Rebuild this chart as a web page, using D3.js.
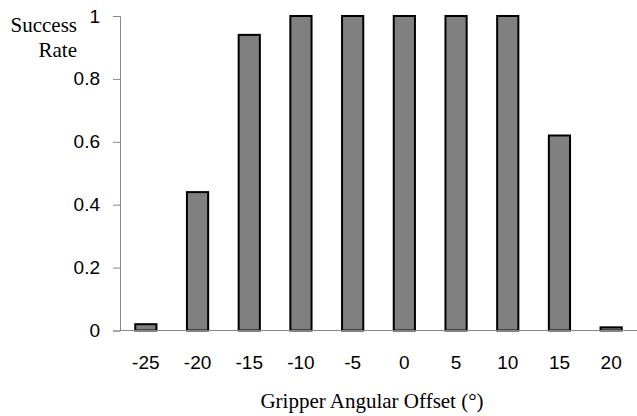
<!DOCTYPE html>
<html><head><meta charset="utf-8">
<script src="https://cdn.jsdelivr.net/npm/d3@7"></script>
<style>body{margin:0;background:#fff}svg{display:block}</style>
</head><body>
<svg id="c" width="637" height="416"></svg>
<script>
const categories = ["-25","-20","-15","-10","-5","0","5","10","15","20"];
const successRate = [0.02,0.44,0.94,1,1,1,1,1,0.62,0.01];
const yTicks = [0,0.2,0.4,0.6,0.8,1];

const svg = d3.select("#c");
const x0 = 120, x1 = 637, yTop = 16, yBot = 330.5;
const x = d3.scaleBand().domain(categories).range([x0, x1]).paddingInner(0.59).paddingOuter(0.295);
const y = d3.scaleLinear().domain([0,1]).range([yBot, yTop]);
const sans = "Liberation Sans, Arial, sans-serif";
const serif = "Liberation Serif, Times New Roman, serif";

svg.selectAll("rect.bar").data(successRate).join("rect")
  .attr("class","bar")
  .attr("x",(d,i)=>x(categories[i]))
  .attr("width",x.bandwidth())
  .attr("y",d=>y(d))
  .attr("height",d=>yBot-y(d))
  .attr("fill","#808080").attr("stroke","#000").attr("stroke-width",2);

// y axis
const ya = svg.append("g").attr("transform",`translate(${x0},0)`)
  .call(d3.axisLeft(y).tickValues(yTicks).tickFormat(d3.format("")).tickSize(7).tickPadding(13));
ya.select(".domain").attr("stroke","#888");
ya.selectAll(".tick line").attr("stroke","#888");
ya.selectAll("text").attr("font-family",sans).attr("font-size",19).attr("fill","#000");

// x axis
const xa = svg.append("g").attr("transform",`translate(0,${yBot})`)
  .call(d3.axisBottom(x).tickSize(0).tickPadding(25));
xa.select(".domain").attr("stroke","#888").attr("d",`M${x0},0H${x1}`);
xa.selectAll("text").attr("font-family",sans).attr("font-size",19).attr("fill","#000");

svg.append("text").attr("x",77).attr("y",32).attr("text-anchor","end")
  .attr("font-family",serif).attr("font-size",21).text("Success");
svg.append("text").attr("x",77).attr("y",57).attr("text-anchor","end")
  .attr("font-family",serif).attr("font-size",21).text("Rate");
svg.append("text").attr("x",372).attr("y",408).attr("text-anchor","middle")
  .attr("font-family",serif).attr("font-size",21).text("Gripper Angular Offset (°)");
</script>
</body></html>
